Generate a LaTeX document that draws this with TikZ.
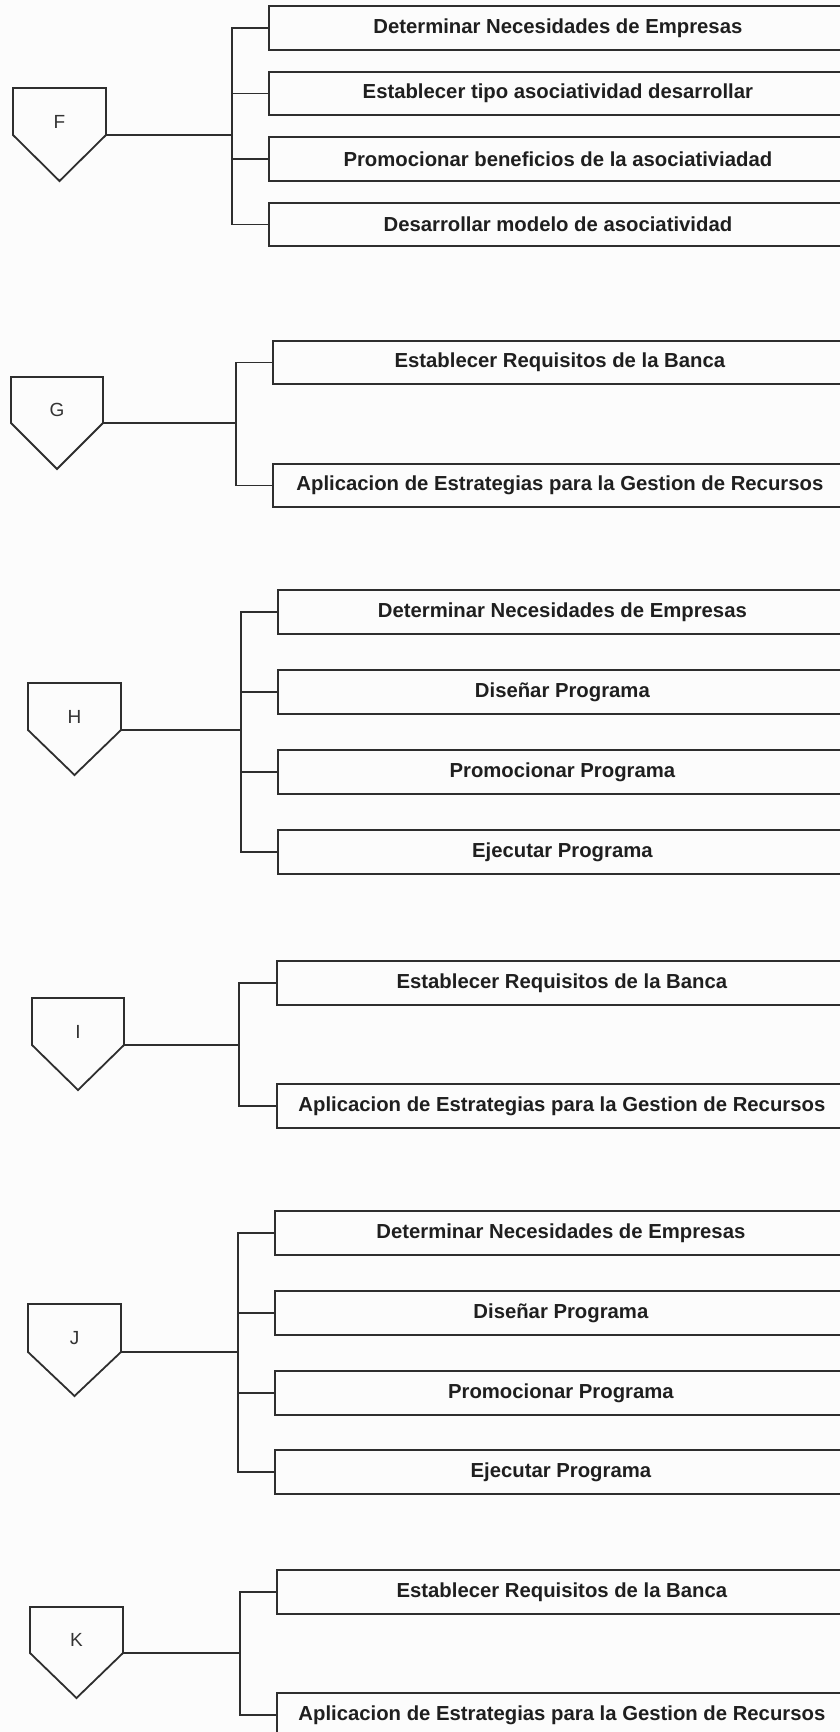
\documentclass[tikz,border=0pt]{standalone}
\usepackage{fontspec}
\setmainfont{Liberation Sans}
\begin{document}
\begin{tikzpicture}[x=1pt,y=-1pt,
  line/.style={draw=black!82, line width=1.8pt},
  task/.style={line, anchor=west, minimum height=43.5pt, inner sep=0pt,
    font=\fontsize{20.3}{24}\selectfont\bfseries, text=black!88},
  letter/.style={font=\fontsize{19}{21}\selectfont, text=black!80},
  link/.style={line}
]
\useasboundingbox (0,0) rectangle (840,1732);
\fill[black!1] (0,0) rectangle (840,1732);
\clip (0,0) rectangle (840,1732);

% ---------- F ----------
\draw[line] (13,88) -- (106,88) -- (106,135) -- (59.5,181) -- (13,135) -- cycle;
\node[letter] (F) at (59.5,122) {F};
\coordinate (Fs) at (106,135);
\coordinate (Ft) at (232,135);
\node[task, minimum width=578pt] (F1) at (268,28)    {Determinar Necesidades de Empresas};
\node[task, minimum width=578pt] (F2) at (268,93.5)  {Establecer tipo asociatividad desarrollar};
\node[task, minimum width=578pt] (F3) at (268,159)   {Promocionar beneficios de la asociativiadad};
\node[task, minimum width=578pt] (F4) at (268,224.5) {Desarrollar modelo de asociatividad};
\draw[link] (Fs) -- (Ft);
\foreach \b in {F1,F2,F3,F4} \draw[link] (\b.west) -| (Ft);

% ---------- G ----------
\draw[line] (11,377) -- (103,377) -- (103,423) -- (57,469) -- (11,423) -- cycle;
\node[letter] (G) at (57,410) {G};
\coordinate (Gs) at (103,423);
\coordinate (Gt) at (236,423);
\node[task, minimum width=574pt] (G1) at (272,362.5) {Establecer Requisitos de la Banca};
\node[task, minimum width=574pt] (G2) at (272,485.5) {Aplicacion de Estrategias para la Gestion de Recursos};
\draw[link] (Gs) -- (Gt);
\foreach \b in {G1,G2} \draw[link] (\b.west) -| (Gt);

% ---------- H ----------
\draw[line] (28,683) -- (121,683) -- (121,730) -- (74.5,775) -- (28,730) -- cycle;
\node[letter] (H) at (74.5,717) {H};
\coordinate (Hs) at (121,730);
\coordinate (Ht) at (241,730);
\node[task, minimum width=569pt] (H1) at (277,612) {Determinar Necesidades de Empresas};
\node[task, minimum width=569pt] (H2) at (277,692) {Diseñar Programa};
\node[task, minimum width=569pt] (H3) at (277,772) {Promocionar Programa};
\node[task, minimum width=569pt] (H4) at (277,852) {Ejecutar Programa};
\draw[link] (Hs) -- (Ht);
\foreach \b in {H1,H2,H3,H4} \draw[link] (\b.west) -| (Ht);

% ---------- I ----------
\draw[line] (32,998) -- (124,998) -- (124,1045) -- (78,1090) -- (32,1045) -- cycle;
\node[letter] (I) at (78,1032) {I};
\coordinate (Is) at (124,1045);
\coordinate (It) at (239,1045);
\node[task, minimum width=570pt] (I1) at (276,983)  {Establecer Requisitos de la Banca};
\node[task, minimum width=570pt] (I2) at (276,1106) {Aplicacion de Estrategias para la Gestion de Recursos};
\draw[link] (Is) -- (It);
\foreach \b in {I1,I2} \draw[link] (\b.west) -| (It);

% ---------- J ----------
\draw[line] (28,1304) -- (121,1304) -- (121,1352) -- (74.5,1396) -- (28,1352) -- cycle;
\node[letter] (J) at (74.5,1338) {J};
\coordinate (Js) at (121,1352);
\coordinate (Jt) at (238,1352);
\node[task, minimum width=572pt] (J1) at (274,1233) {Determinar Necesidades de Empresas};
\node[task, minimum width=572pt] (J2) at (274,1313) {Diseñar Programa};
\node[task, minimum width=572pt] (J3) at (274,1393) {Promocionar Programa};
\node[task, minimum width=572pt] (J4) at (274,1472) {Ejecutar Programa};
\draw[link] (Js) -- (Jt);
\foreach \b in {J1,J2,J3,J4} \draw[link] (\b.west) -| (Jt);

% ---------- K ----------
\draw[line] (30,1607) -- (123,1607) -- (123,1653) -- (76.5,1698) -- (30,1653) -- cycle;
\node[letter] (K) at (76.5,1640) {K};
\coordinate (Ks) at (123,1653);
\coordinate (Kt) at (240,1653);
\node[task, minimum width=570pt] (K1) at (276,1592) {Establecer Requisitos de la Banca};
\node[task, minimum width=570pt] (K2) at (276,1715) {Aplicacion de Estrategias para la Gestion de Recursos};
\draw[link] (Ks) -- (Kt);
\foreach \b in {K1,K2} \draw[link] (\b.west) -| (Kt);
\end{tikzpicture}
\end{document}
